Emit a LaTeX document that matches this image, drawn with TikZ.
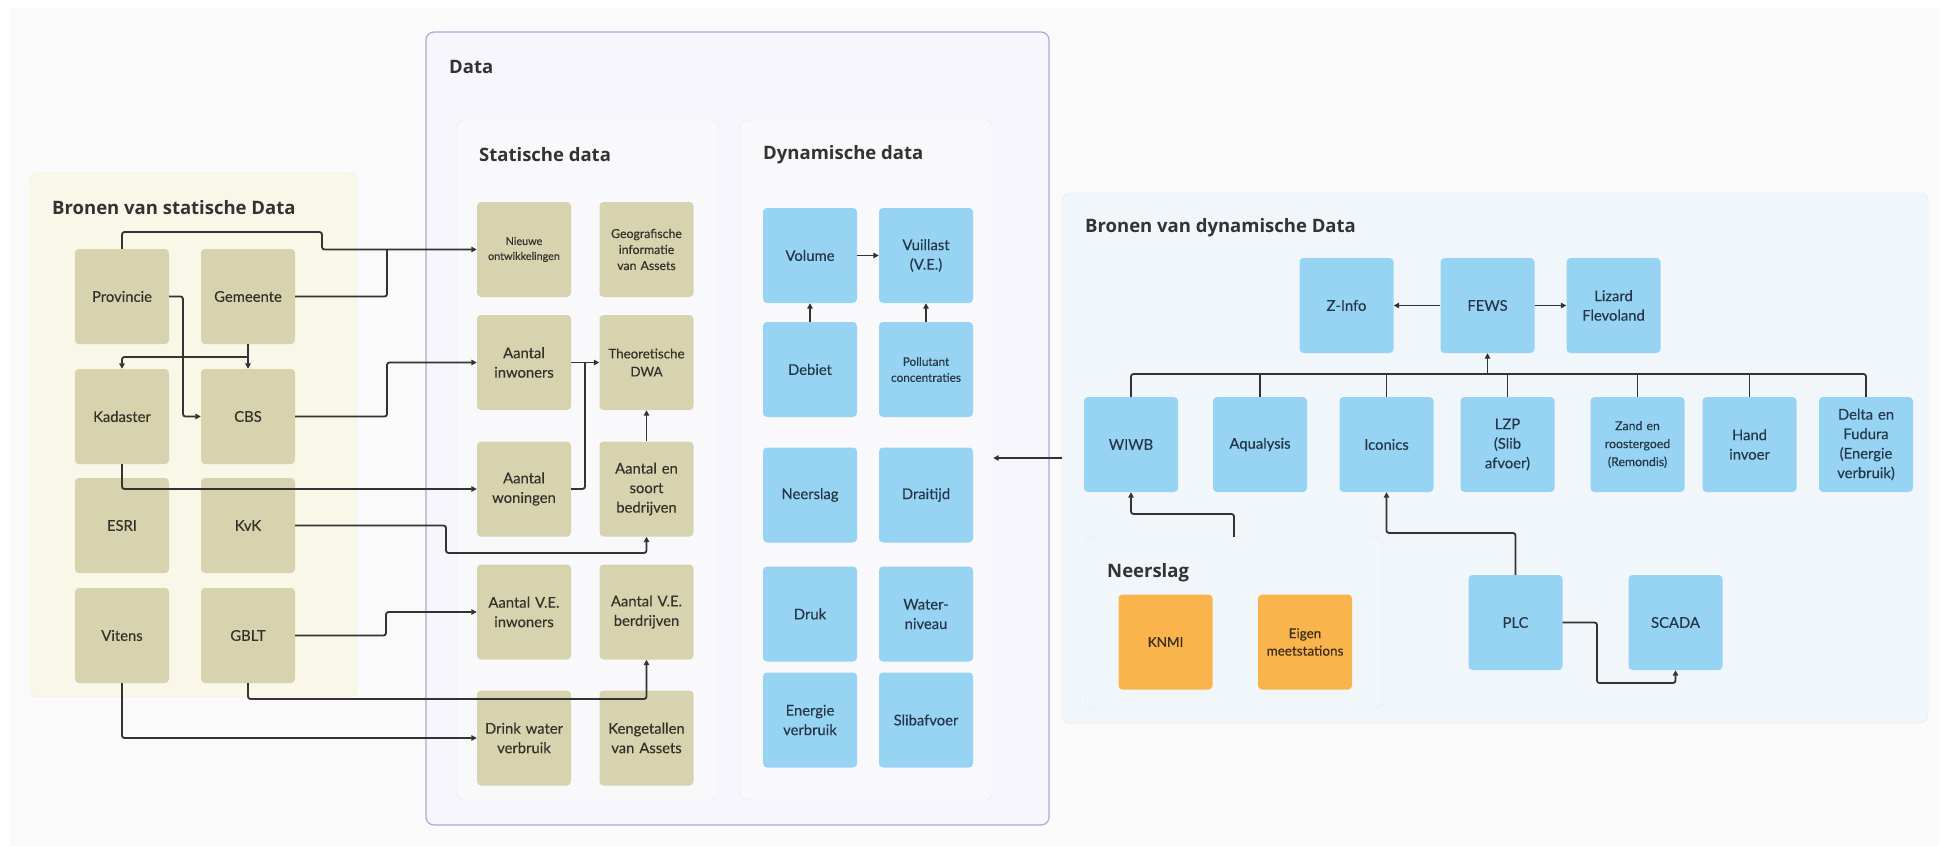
\documentclass[tikz,border=0pt]{standalone}
\usepackage{fontspec}
\setmainfont{Lato}[FakeBold=0.25]
\newfontfamily\titlefont{Open Sans}
\usetikzlibrary{arrows.meta}
\definecolor{bgc}{HTML}{FAFAFA}
\definecolor{khaki}{HTML}{D6D3AE}
\definecolor{lpan}{HTML}{F8F7E8}
\definecolor{lpanb}{HTML}{EEEDDA}
\definecolor{bluebox}{HTML}{97D4F4}
\definecolor{orangebox}{HTML}{F9B44C}
\definecolor{datafill}{HTML}{F7F6FC}
\definecolor{databord}{HTML}{B9A3D8}
\definecolor{subfill}{HTML}{F9F9FC}
\definecolor{subbord}{HTML}{EAEAF1}
\definecolor{srcfill}{HTML}{F1F6FB}
\definecolor{srcbord}{HTML}{E2E8EF}
\definecolor{ktext}{HTML}{33322A}
\definecolor{btext}{HTML}{263646}
\definecolor{otext}{HTML}{3A2E1E}
\definecolor{lc}{HTML}{333333}
\definecolor{ttext}{HTML}{333333}
\begin{document}
\begin{tikzpicture}[x=1pt,y=-1pt,
  basebox/.style={rounded corners=4pt, minimum width=94pt, minimum height=95pt, text width=92pt, align=center, inner sep=0pt},
  kbox/.style={basebox, fill=khaki, text=ktext, font=\fontsize{14.8}{19.5}\selectfont},
  bbox/.style={basebox, fill=bluebox, text=btext, font=\fontsize{14.8}{19.5}\selectfont},
  obox/.style={basebox, fill=orangebox, text=otext, font=\fontsize{13.5}{17.5}\selectfont},
  panel/.style={rounded corners=8pt, inner sep=0pt},
  ptitle/.style={anchor=west, inner sep=0pt, text=ttext, font=\titlefont\bfseries\fontsize{18.5}{22}\selectfont},
  conn/.style={draw=lc, line width=1.8pt, rounded corners=2.5pt, -{Triangle[length=5.5pt,width=5.5pt]}},
  connl/.style={draw=lc, line width=1.8pt, rounded corners=2.5pt}
]
\useasboundingbox (0,0) rectangle (1939,846);
\fill[white] (0,0) rectangle (1939,846);
\fill[bgc] (9,8) rectangle (1939,846);

% panels
\node[panel, fill=lpan, draw=lpanb, minimum width=327pt, minimum height=524pt] (lpanel) at (193.5,435) {};
\node[panel, fill=datafill, draw=databord, line width=1.2pt, minimum width=623pt, minimum height=793pt] (datap) at (737.5,428.5) {};
\node[panel, fill=subfill, draw=subbord, minimum width=261pt, minimum height=680pt] (statp) at (587.5,460) {};
\node[panel, fill=subfill, draw=subbord, minimum width=253pt, minimum height=680pt] (dynp) at (866.5,460) {};
\node[panel, fill=srcfill, draw=srcbord, minimum width=866pt, minimum height=530pt] (srcp) at (1495,458) {};
\node[panel, fill=srcfill, draw=srcbord, minimum width=298pt, minimum height=171pt] (neerp) at (1234,622.5) {};

% titles
\node[ptitle] (t1) at (52,208) {Bronen van statische Data};
\node[ptitle] (t2) at (449,67) {Data};
\node[ptitle] (t3) at (479,155) {Statische data};
\node[ptitle] (t4) at (763,155) {Dynamische data};
\node[ptitle] (t5) at (1085,228) {Bronen van dynamische Data};
\node[ptitle] (t6) at (1107,573) {Neerslag};

% static sources
\node[kbox] (prov) at (122,296.5) {Provincie};
\node[kbox] (gem) at (248,296.5) {Gemeente};
\node[kbox] (kad) at (122,416.5) {Kadaster};
\node[kbox] (cbs) at (248,416.5) {CBS};
\node[kbox] (esri) at (122,525.5) {ESRI};
\node[kbox] (kvk) at (248,525.5) {KvK};
\node[kbox] (vit) at (122,635.5) {Vitens};
\node[kbox] (gblt) at (248,635.5) {GBLT};

% static data
\node[kbox, font=\fontsize{10.8}{15}\selectfont] (nieuw) at (524,249.5) {Nieuwe\\ontwikkelingen};
\node[kbox, font=\fontsize{12.3}{16}\selectfont] (geo) at (646.5,249.5) {Geografische\\informatie\\van Assets};
\node[kbox] (inw) at (524,362.5) {Aantal\\inwoners};
\node[kbox, font=\fontsize{13.3}{18}\selectfont] (dwa) at (646.5,362.5) {Theoretische\\DWA};
\node[kbox] (won) at (524,489) {Aantal\\woningen};
\node[kbox] (bed) at (646.5,489) {Aantal en\\soort\\bedrijven};
\node[kbox] (vei) at (524,612) {Aantal V.E.\\inwoners};
\node[kbox] (veb) at (646.5,612) {Aantal V.E.\\berdrijven};
\node[kbox] (drink) at (524,738) {Drink water\\verbruik};
\node[kbox] (keng) at (646.5,738) {Kengetallen\\van Assets};

% dynamic data
\node[bbox] (vol) at (810,255.5) {Volume};
\node[bbox] (vuil) at (926,255.5) {Vuillast\\(V.E.)};
\node[bbox] (deb) at (810,369.5) {Debiet};
\node[bbox, font=\fontsize{11.8}{16}\selectfont] (pol) at (926,369.5) {Pollutant\\concentraties};
\node[bbox] (neer) at (810,495) {Neerslag};
\node[bbox] (drait) at (926,495) {Draitijd};
\node[bbox] (druk) at (810,614) {Druk};
\node[bbox] (wniv) at (926,614) {Water-\\niveau};
\node[bbox] (energ) at (810,720) {Energie\\verbruik};
\node[bbox] (slib) at (926,720) {Slibafvoer};

% dynamic sources
\node[bbox] (zinfo) at (1346.5,305.5) {Z-Info};
\node[bbox] (fews) at (1487.5,305.5) {FEWS};
\node[bbox] (liz) at (1613.5,305.5) {Lizard\\Flevoland};
\node[bbox] (wiwb) at (1131,444.5) {WIWB};
\node[bbox] (aqua) at (1260,444.5) {Aqualysis};
\node[bbox] (icon) at (1386.5,444.5) {Iconics};
\node[bbox] (lzp) at (1507.5,444.5) {LZP\\(Slib\\afvoer)};
\node[bbox, font=\fontsize{12.3}{18}\selectfont] (zand) at (1637.5,444.5) {Zand en\\roostergoed\\(Remondis)};
\node[bbox] (hand) at (1749.5,444.5) {Hand\\invoer};
\node[bbox] (delta) at (1866,444.5) {Delta en\\Fudura\\(Energie\\verbruik)};
\node[obox] (knmi) at (1165.5,642) {KNMI};
\node[obox] (eigen) at (1305,642) {Eigen\\meetstations};
\node[bbox] (plc) at (1515.5,622.5) {PLC};
\node[bbox] (scada) at (1675.5,622.5) {SCADA};

% connectors: static sources -> static data
\draw[conn] (prov.north) |- (322,232) |- (nieuw.west);
\draw[connl] (gem.east) -| (387,249.5);
\draw[conn] (prov.east) -- (183,296.5) |- (cbs.west);
\draw[conn] (gem.south) -- (cbs.north);
\draw[conn] (248,357) -| (kad.north);
\draw[conn] (cbs.east) -- (387,416.5) |- (inw.west);
\draw[conn] (kad.south) |- (won.west);
\draw[conn] (kvk.east) -| (446,553) -| (bed.south);
\draw[conn] (gblt.east) -- (386,635.5) |- (vei.west);
\draw[conn] (gblt.south) -- (248,699) -| (veb.south);
\draw[conn] (vit.south) |- (drink.west);

% within static data
\draw[conn] (inw.east) -- (dwa.west);
\draw[connl] (won.east) -- (585,489) -- (585,362.5);
\draw[conn] (bed.north) -- (dwa.south);

% within dynamic data
\draw[conn] (vol.east) -- (vuil.west);
\draw[conn] (deb.north) -- (vol.south);
\draw[conn] (pol.north) -- (vuil.south);

% dynamic sources -> dynamic data
\draw[conn] (srcp.west) -- (srcp.west -| dynp.east);

% dynamic sources internal
\coordinate (bus) at (0,374);
\draw[conn] (fews.west) -- (zinfo.east);
\draw[conn] (fews.east) -- (liz.west);
\draw[connl] (wiwb.north) |- (delta.north |- bus) -- (delta.north);
\draw[connl] (aqua.north) -- (aqua.north |- bus);
\draw[connl] (icon.north) -- (icon.north |- bus);
\draw[connl] (lzp.north) -- (lzp.north |- bus);
\draw[connl] (zand.north) -- (zand.north |- bus);
\draw[connl] (hand.north) -- (hand.north |- bus);
\draw[conn] (fews.south |- bus) -- (fews.south);
\draw[conn] (neerp.north) -- (1234,514) -| (wiwb.south);
\draw[conn] (plc.north) -- (1515.5,533) -| (icon.south);
\draw[conn] (plc.east) -| (1597,683) -| (scada.south);
\end{tikzpicture}
\end{document}
